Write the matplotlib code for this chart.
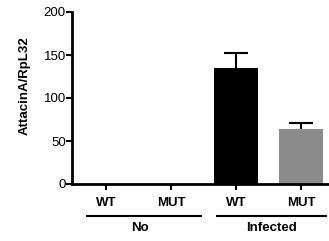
import matplotlib.pyplot as plt

plt.rcParams['font.family'] = ['Liberation Sans', 'DejaVu Sans']

etiquetas = ["WT", "MUT", "WT", "MUT"]
valores = [0, 0, 135, 64]
errores = [0, 0, 17, 6.6]
colores = ["black", "black", "black", "#8c8c8c"]
grupos = ["No", "Infected"]

fig = plt.figure(figsize=(3.29, 2.41), dpi=100)
ax = fig.add_axes([72/329, 57/241, 257/329, 172/241])

pos = list(range(len(valores)))
ax.bar(pos, valores, width=0.67, color=colores, zorder=2)

# barras de error solo hacia arriba
tope = [v + e for v, e in zip(valores, errores)]
con_error = [i for i in pos if errores[i] > 0]
ax.vlines(con_error, [valores[i] for i in con_error], [tope[i] for i in con_error],
          color="black", lw=1.5, zorder=1)
ax.hlines([tope[i] for i in con_error], [i - 0.18 for i in con_error],
          [i + 0.18 for i in con_error], color="black", lw=1.5, zorder=3)

ax.set_xlim(-0.523, 3.43)
ax.set_ylim(0, 200)
ax.set_yticks([0, 50, 100, 150, 200])
ax.set_xticks(pos)
ax.set_xticklabels(etiquetas, fontsize=9.5, fontweight="bold")
ax.tick_params(axis="y", labelsize=9.5, width=1.5, length=4, direction="out", pad=0.5)
ax.tick_params(axis="x", width=1.5, length=4, direction="out", pad=5)

for s in ["top", "right"]:
    ax.spines[s].set_visible(False)
for s in ["left", "bottom"]:
    ax.spines[s].set_linewidth(2)

ax.set_ylabel("AttacinA/RpL32", fontsize=9.5, fontweight="bold")
ax.yaxis.set_label_coords(-41/257, 0.57)

# lineas de grupo debajo del eje
trans = ax.get_xaxis_transform()
y_linea = -32/172
ax.plot([-0.29, 1.457], [y_linea, y_linea], color="black", lw=1.5, transform=trans, clip_on=False)
ax.plot([1.70, 3.38], [y_linea, y_linea], color="black", lw=1.5, transform=trans, clip_on=False)
ax.text(0.52, -44/172, grupos[0], transform=trans, ha="center", va="center", fontsize=9.5, fontweight="bold")
ax.text(2.55, -44/172, grupos[1], transform=trans, ha="center", va="center", fontsize=9.5, fontweight="bold")

fig.savefig("out.png", dpi=100)
